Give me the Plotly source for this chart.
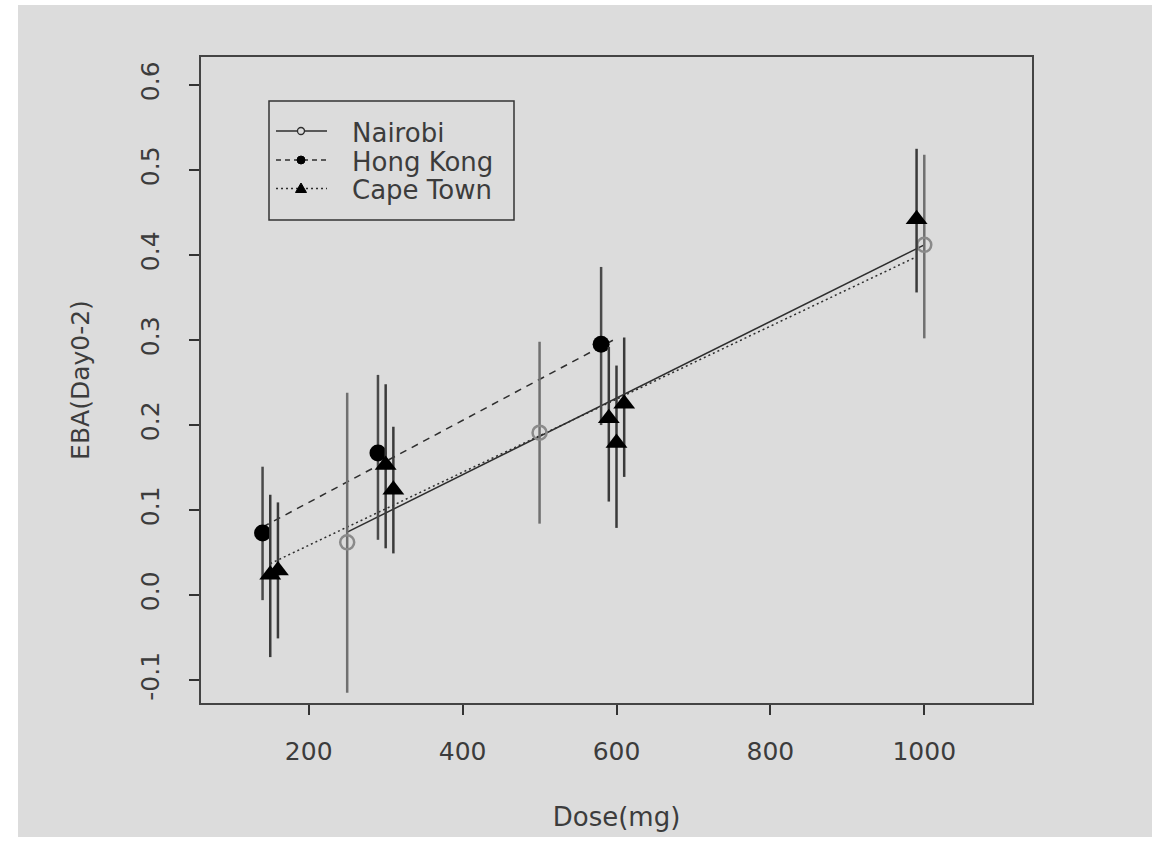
import plotly.graph_objects as go

# ---- data ----
nairobi_x = [250, 500, 1000]
nairobi_y = [0.062, 0.191, 0.412]
nairobi_hi = [0.238, 0.298, 0.518]
nairobi_lo = [-0.115, 0.084, 0.302]

hk_x = [140, 290, 580]
hk_y = [0.073, 0.167, 0.295]
hk_hi = [0.151, 0.259, 0.386]
hk_lo = [-0.006, 0.065, 0.200]

ct_x = [150, 160, 300, 310, 590, 600, 610, 990]
ct_y = [0.024, 0.029, 0.153, 0.124, 0.208, 0.179, 0.225, 0.442]
ct_hi = [0.118, 0.109, 0.248, 0.198, 0.292, 0.270, 0.303, 0.525]
ct_lo = [-0.073, -0.051, 0.055, 0.049, 0.110, 0.079, 0.139, 0.356]

# fitted lines (endpoints)
nairobi_fit_x = [250, 1000]
nairobi_fit_y = [0.074, 0.412]
hk_fit_x = [140, 600]
hk_fit_y = [0.080, 0.302]
ct_fit_x = [150, 990]
ct_fit_y = [0.037, 0.398]

site_names = ["Nairobi", "Hong Kong", "Cape Town"]

x_ticks = [200, 400, 600, 800, 1000]
y_ticks = [-0.1, 0.0, 0.1, 0.2, 0.3, 0.4, 0.5, 0.6]
y_ticktext = ["-0.1", "0.0", "0.1", "0.2", "0.3", "0.4", "0.5", "0.6"]

BG = "#dcdcdc"
TXT = "#3c3c3c"
LINE = "#2e2e2e"
FONT = "DejaVu Sans"
FS = 25

fig = go.Figure()

def err(y, hi, lo):
    return [h - v for h, v in zip(hi, y)], [v - l for v, l in zip(y, lo)]

# fitted lines
fig.add_trace(go.Scatter(x=nairobi_fit_x, y=nairobi_fit_y, mode="lines", name=site_names[0],
                         line=dict(color=LINE, width=1.5, dash="solid"),
                         showlegend=False, hoverinfo="skip"))
fig.add_trace(go.Scatter(x=hk_fit_x, y=hk_fit_y, mode="lines", name=site_names[1],
                         line=dict(color=LINE, width=1.5, dash="7px,6px"),
                         showlegend=False, hoverinfo="skip"))
fig.add_trace(go.Scatter(x=ct_fit_x, y=ct_fit_y, mode="lines", name=site_names[2],
                         line=dict(color=LINE, width=1.5, dash="2px,3px"),
                         showlegend=False, hoverinfo="skip"))

# points with error bars
up, dn = err(nairobi_y, nairobi_hi, nairobi_lo)
fig.add_trace(go.Scatter(x=nairobi_x, y=nairobi_y, mode="markers", name=site_names[0],
                         marker=dict(symbol="circle-open", size=14, color="#8a8a8a",
                                     line=dict(width=2.5, color="#8a8a8a")),
                         error_y=dict(type="data", symmetric=False, array=up, arrayminus=dn,
                                      width=0, thickness=2.5, color="#707070"),
                         showlegend=False))
up, dn = err(hk_y, hk_hi, hk_lo)
fig.add_trace(go.Scatter(x=hk_x, y=hk_y, mode="markers", name=site_names[1],
                         marker=dict(symbol="circle", size=17, color="#000000"),
                         error_y=dict(type="data", symmetric=False, array=up, arrayminus=dn,
                                      width=0, thickness=2.5, color="#4a4a4a"),
                         showlegend=False))
up, dn = err(ct_y, ct_hi, ct_lo)
fig.add_trace(go.Scatter(x=ct_x, y=ct_y, mode="markers", name=site_names[2],
                         marker=dict(symbol="triangle-up", size=19, color="#000000"),
                         error_y=dict(type="data", symmetric=False, array=up, arrayminus=dn,
                                      width=0, thickness=2.5, color="#3a3a3a"),
                         showlegend=False))

# ---- page geometry ----
W, H = 1160, 841
L, R, T, B = 201, 128, 57, 138
pw, ph = W - L - R, H - T - B
def px(x):
    return (x - L) / pw
def py(y):
    return (H - B - y) / ph

shapes = []
# gray panel with a white frame
shapes.append(dict(type="rect", xref="paper", yref="paper",
                   x0=px(18), x1=px(1152), y0=py(837), y1=py(5),
                   fillcolor=BG, line=dict(width=0), layer="below"))

# ---- hand-drawn legend (R style) ----
annotations = []
shapes.append(dict(type="rect", xref="paper", yref="paper",
                   x0=px(269), x1=px(514), y0=py(220), y1=py(101),
                   fillcolor="rgba(0,0,0,0)", line=dict(color="#333333", width=1.5),
                   layer="above"))
row_y = [131, 160, 188.5]
text_y = [133, 161.5, 190]
dashes = ["solid", "5px,4px", "2px,3px"]
for i, name in enumerate(site_names):
    yy = row_y[i]
    shapes.append(dict(type="line", xref="paper", yref="paper",
                       x0=px(276), x1=px(327), y0=py(yy), y1=py(yy),
                       line=dict(color=LINE, width=1.3, dash=dashes[i]), layer="above"))
    annotations.append(dict(text=name, xref="paper", yref="paper",
                            x=px(350), y=py(text_y[i]), xanchor="left", yanchor="middle",
                            showarrow=False, font=dict(family=FONT, size=26, color=TXT)))
cx = 301
# open circle
shapes.append(dict(type="circle", xref="paper", yref="paper",
                   x0=px(cx - 3.5), x1=px(cx + 3.5), y0=py(row_y[0] + 3.5), y1=py(row_y[0] - 3.5),
                   fillcolor=BG, line=dict(color=LINE, width=1.3), layer="above"))
# filled circle
shapes.append(dict(type="circle", xref="paper", yref="paper",
                   x0=px(cx - 4), x1=px(cx + 4), y0=py(row_y[1] + 4), y1=py(row_y[1] - 4),
                   fillcolor="#000000", line=dict(color="#000000", width=1), layer="above"))
# filled triangle
ty = row_y[2]
tri = "M {} {} L {} {} L {} {} Z".format(px(cx - 5.5), py(ty + 4), px(cx + 5.5), py(ty + 4),
                                         px(cx), py(ty - 5.5))
shapes.append(dict(type="path", xref="paper", yref="paper", path=tri,
                   fillcolor="#000000", line=dict(color="#000000", width=1), layer="above"))

fig.update_layout(
    width=W, height=H,
    margin=dict(l=L, r=R, t=T, b=B, pad=0),
    paper_bgcolor="white", plot_bgcolor=BG,
    font=dict(family=FONT, size=FS, color=TXT),
    showlegend=False,
    shapes=shapes,
    annotations=annotations,
    xaxis=dict(range=[60, 1140], tickvals=x_ticks, ticks="outside", ticklen=10,
               tickwidth=1.5, tickcolor="#333333", showgrid=False, zeroline=False,
               showline=True, linecolor="#444444", linewidth=2, mirror=True,
               ticklabelstandoff=15, tickfont=dict(size=FS),
               title=dict(text="Dose(mg)", standoff=43, font=dict(size=26, color=TXT))),
    yaxis=dict(range=[-0.127, 0.633], tickvals=y_ticks, ticktext=y_ticktext,
               ticks="outside", ticklen=10, tickangle=-90,
               tickwidth=1.5, tickcolor="#333333", showgrid=False, zeroline=False,
               showline=True, linecolor="#444444", linewidth=2, mirror=True,
               ticklabelstandoff=20, tickfont=dict(size=FS),
               title=dict(text="EBA(Day0-2)", standoff=39, font=dict(size=25, color=TXT))),
)

fig.write_html("out.html")
